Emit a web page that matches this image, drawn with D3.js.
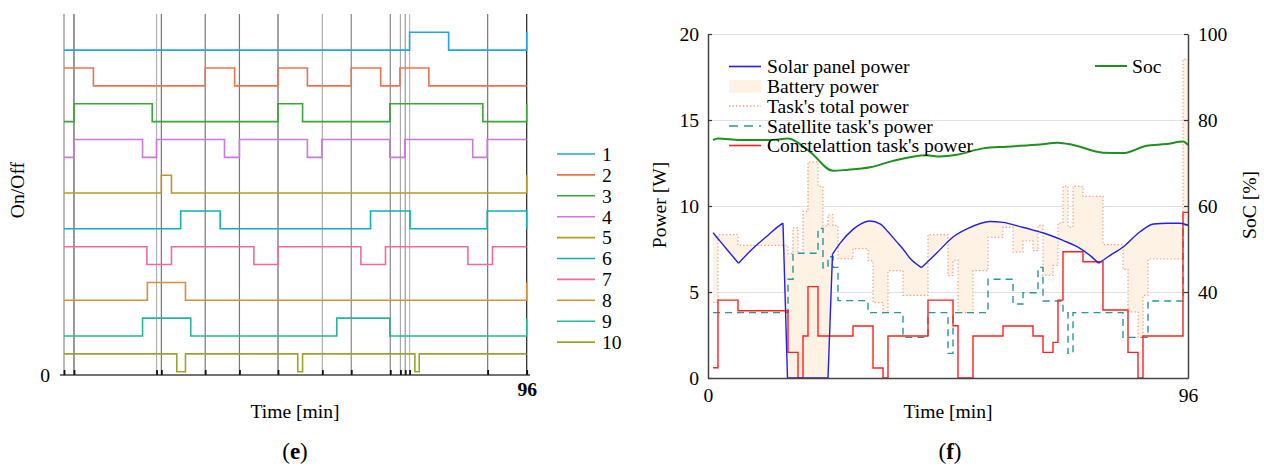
<!DOCTYPE html>
<html><head><meta charset="utf-8">
<script src="https://cdn.jsdelivr.net/npm/d3@7"></script>
<style>
body{margin:0;background:#fff}
svg{display:block;font-family:"Liberation Serif","Times New Roman",serif}
</style>
</head><body>
<svg id="c" width="1264" height="468"></svg>
<script>
// ---------------- DATA: panel (e) on/off schedule ----------------
const taskLabels = ["1","2","3","4","5","6","7","8","9","10"];
const task1  = [[0,0],[71.7,1],[79.8,0],[96,1]];
const task2  = [[0,1],[6.1,0],[29.3,1],[35.4,0],[44.4,1],[50.5,0],[59.6,1],[65.7,0],[69.7,1],[75.7,0],[96,0]];
const task3  = [[0,0],[2.07,1],[18.3,0],[44.4,1],[49.5,0],[67.6,1],[86.9,0],[96,1]];
const task4  = [[0,0],[2.07,1],[16.3,0],[19.2,1],[33.3,0],[36.4,1],[50.5,0],[53.5,1],[67.6,0],[70.7,1],[84.8,0],[87.8,1],[96,1]];
const task5  = [[0,0],[20.2,1],[22.3,0],[96,1]];
const task6  = [[0,0],[24.2,1],[32.4,0],[63.6,1],[71.8,0],[87.8,1],[96,0]];
const task7  = [[0,1],[17.2,0],[22.3,1],[39.4,0],[44.4,1],[61.6,0],[66.7,1],[83.8,0],[88.9,1],[96,1]];
const task8  = [[0,0],[17.3,1],[25.2,0],[96,1]];
const task9  = [[0,0],[16.3,1],[26.3,0],[56.6,1],[67.6,0],[96,1]];
const task10 = [[0,1],[23.4,0],[25.2,1],[48.5,0],[49.5,1],[72.8,0],[73.7,1],[96,1]];
const eventTimes = [0,2.07,19.2,20.2,29.3,36.4,44.4,53.6,59.6,67.7,69.8,70.8,71.7,87.9,96];
const eventShade = ["#8a8a8a","#555","#b0b0b0","#777","#777","#777","#666","#aaa","#888","#888","#aaa","#999","#bbb","#777","#222"];
const xTicksE = [96];

// ---------------- DATA: panel (f) power ----------------
const solarTime  = [1,2,4,6.1,8,10,12,14,15,15.9,24,24.9,26.4,29,30.5,32.4,34.5,36,37.7,39,40.4,42.7,45.7,49,52,56.4,59,62.4,65,68.4,71,74.4,76.5,78.1,80,83.1,86.4,89.1,92,94.4,96];
const solarPower = [8.45,8.1,7.4,6.67,7.25,7.8,8.3,8.8,9.0,0,0,7.2,7.83,8.64,8.95,9.13,8.95,8.5,7.93,7.5,6.96,6.42,7.25,8.2,8.7,9.1,9.05,8.8,8.6,8.3,8.0,7.54,7.1,6.67,7.05,7.63,8.5,8.95,9.0,9.0,8.88];
const solarCusps = [6.1,15,15.9,24,24.9,42.7,78.1];
const satTime  = [1,16,17,22,23,24,25,26,32,39,44,48,49,56,61,63,66,67,71,72,73,83,88,95,96];
const satPower = [3.8,5.74,7.25,8.7,6.4,7.05,6.43,4.5,3.8,2.36,3.8,1.43,3.8,5.74,4.3,4.96,6.43,4.48,3.8,1.43,3.8,2.36,4.48,8.9,8.9];
const conTime  = [1,2,6,16,18,19,20,22,29,33,35,36,44,49,50,53,59,65,67,69,70,71,75,79,84,86,87,95,96];
const conPower = [0.6,4.53,3.91,1.49,0,2.44,5.31,2.44,3.02,0.58,0,2.44,4.53,3.04,0,2.44,3.02,2.44,1.49,2.07,4.53,7.34,6.76,3.95,1.49,0,2.44,9.63,9.63];
const socTime  = [1,2,6.4,13,16,20.4,25,27.7,32.4,37,43.7,46.4,49.7,55,59.7,66.4,70,73,79,83,87.7,91.7,95,96];
const socValue = [75.35,75.7,75.35,75.35,75.7,72.6,68.2,68.4,69,70.5,71.8,71.5,71.9,73.4,73.8,74.3,74.7,74.2,72.4,72.3,74,74.4,75,74.2];
const powerTicks = [0,5,10,15,20];
const socTicks = [40,60,80,100];
const timeTicksF = [0,96];
const legendF = ["Solar panel power","Battery power","Task's total power","Satellite task's power","Constelattion task's power"];

// ---------------- STYLES ----------------
const taskColors = ["#1ea5ea","#ef7150","#38a838","#cc78dc","#b89a22","#10b0b8","#f4699a","#d8903a","#22b89a","#9aa42a"];
const FONT = 19.6;
const SERIF = '"Liberation Serif","Times New Roman",serif';
const svg = d3.select("#c");

// ================= PANEL (e) =================
const xL = d3.scaleLinear().domain([0,96]).range([64,526.7]);
const yL = d3.scaleLinear().domain([0,20.2]).range([375,14]);
const gE = svg.append("g");

gE.selectAll("line.ev").data(eventTimes).join("line")
  .attr("x1",d=>xL(d)).attr("x2",d=>xL(d)).attr("y1",yL(20.2)).attr("y2",yL(0))
  .attr("stroke",(d,i)=>eventShade[i]).attr("stroke-width",1.2);

const axE = d3.axisBottom(xL).tickValues(eventTimes).tickSizeInner(-5).tickSizeOuter(0)
  .tickFormat(d=>xTicksE.includes(d)?d:"");
const gax = gE.append("g").attr("transform",`translate(0,${yL(0)})`).call(axE);
gax.attr("font-family",SERIF).attr("font-size",FONT);
gax.select(".domain").attr("d",`M60,0H530`).attr("stroke","#444").attr("stroke-width",1.5);
gax.selectAll(".tick line").attr("stroke","#111").attr("stroke-width",1.8);
gax.selectAll(".tick text").attr("font-weight","bold").attr("fill","#000").attr("dy","0.9em");

const ayE = d3.axisLeft(yL).tickValues([0]).tickSize(0).tickPadding(10);
const gay = gE.append("g").attr("transform","translate(60,0)").call(ayE);
gay.attr("font-family",SERIF).attr("font-size",FONT);
gay.select(".domain").remove();
gay.selectAll("text").attr("fill","#000");

const tasks = [task1,task2,task3,task4,task5,task6,task7,task8,task9,task10];
tasks.forEach((arr,i)=>{
  const base = 2*(9-i)+0.18;
  const line = d3.line().curve(d3.curveStepAfter).x(d=>xL(d[0])).y(d=>yL(base+d[1]));
  gE.append("path").datum(arr).attr("d",line).attr("fill","none")
    .attr("stroke",taskColors[i]).attr("stroke-width",1.6);
});

const legE = gE.append("g");
taskLabels.forEach((lab,i)=>{
  const y = 154 + i*20.9;
  legE.append("line").attr("x1",557).attr("x2",595).attr("y1",y).attr("y2",y)
    .attr("stroke",taskColors[i]).attr("stroke-width",1.6);
  legE.append("text").attr("x",602).attr("y",y).attr("dy","0.35em").attr("font-size",FONT).text(lab);
});

gE.append("text").attr("transform","translate(24,190) rotate(-90)").attr("text-anchor","middle")
  .attr("font-size",FONT).text("On/Off");
gE.append("text").attr("x",295).attr("y",418).attr("text-anchor","middle").attr("font-size",FONT).text("Time [min]");
const capE = gE.append("text").attr("x",295).attr("y",459).attr("text-anchor","middle").attr("font-size",23);
capE.append("tspan").text("(");
capE.append("tspan").attr("font-weight","bold").text("e");
capE.append("tspan").text(")");

// ================= PANEL (f) =================
const xR = d3.scaleLinear().domain([0,96]).range([708,1188]);
const yP = d3.scaleLinear().domain([0,20]).range([378,34]);
const yS = d3.scaleLinear().domain([20,100]).range([378,34]);
const gF = svg.append("g");

const grid = d3.axisLeft(yP).tickValues(powerTicks.slice(1)).tickSize(-480).tickFormat("");
const gg = gF.append("g").attr("transform","translate(708,0)").call(grid);
gg.select(".domain").remove();
gg.selectAll("line").attr("stroke","#e2e2e2").attr("stroke-width",1);

function stepAt(T,V,t){ let v=0; for(let i=0;i<T.length;i++){ if(T[i]<=t) v=V[i]; else break;} return v; }
const totalTimes = Array.from(new Set([...satTime,...conTime])).sort((a,b)=>a-b);
const totalAt = t=>stepAt(satTime,satPower,t)+stepAt(conTime,conPower,t);
const totalSeries = totalTimes.map(t=>[t, totalAt(t)]);

// solar drawn as smooth arcs between cusps
const solarPts = solarTime.map((t,i)=>[t,solarPower[i]]);
const arcs = [];
let cur = [];
solarPts.forEach(p=>{
  cur.push(p);
  if(solarCusps.includes(p[0])){ arcs.push(cur); cur=[p]; }
});
if(cur.length>1) arcs.push(cur);
const solarLine = d3.line().curve(d3.curveMonotoneX).x(d=>xR(d[0])).y(d=>yP(d[1]));

// battery area between drawn solar curve and total power
const solarSamples = [];
arcs.forEach(a=>{
  const t0=a[0][0], t1=a[a.length-1][0];
  const n = Math.max(8, Math.round((t1-t0)*16));
  const p = svg.append("path").attr("d",solarLine(a)).attr("visibility","hidden");
  const node = p.node(); const L = node.getTotalLength();
  for(let k=0;k<=n;k++){ const pt=node.getPointAtLength(L*k/n); solarSamples.push([xR.invert(pt.x), yP.invert(pt.y)]); }
  p.remove();
});
solarSamples.sort((a,b)=>a[0]-b[0]);
function solarDrawnAt(t){
  const i = d3.bisector(d=>d[0]).right(solarSamples,t);
  if(i<=0) return solarSamples[0][1];
  if(i>=solarSamples.length) return solarSamples[solarSamples.length-1][1];
  const a=solarSamples[i-1], b=solarSamples[i];
  if(b[0]===a[0]) return b[1];
  return a[1]+(b[1]-a[1])*(t-a[0])/(b[0]-a[0]);
}
const allT = Array.from(new Set([...solarSamples.map(d=>d[0]),...totalTimes])).sort((a,b)=>a-b);
const areaPts = [];
allT.forEach(t=>{
  const s = solarDrawnAt(t);
  if(totalTimes.includes(t) && t>allT[0]) areaPts.push({t, s, p: totalAt(t-1e-6)});
  areaPts.push({t, s, p: totalAt(t)});
});
gF.append("path").datum(areaPts)
  .attr("d",d3.area().x(d=>xR(d.t)).y0(d=>yP(d.s)).y1(d=>yP(d.p)))
  .attr("fill","#fdf2e4").attr("stroke","none");

gF.append("path").datum(totalSeries)
  .attr("d",d3.line().curve(d3.curveStepAfter).x(d=>xR(d[0])).y(d=>yP(d[1])))
  .attr("fill","none").attr("stroke","#f59a80").attr("stroke-width",1.2).attr("stroke-dasharray","1.3,2.2");

gF.append("path").datum(satTime.map((t,i)=>[t,satPower[i]]))
  .attr("d",d3.line().curve(d3.curveStepAfter).x(d=>xR(d[0])).y(d=>yP(d[1])))
  .attr("fill","none").attr("stroke","#2b9696").attr("stroke-width",1.4).attr("stroke-dasharray","7,5");

gF.append("path").datum(conTime.map((t,i)=>[t,conPower[i]]))
  .attr("d",d3.line().curve(d3.curveStepAfter).x(d=>xR(d[0])).y(d=>yP(d[1])))
  .attr("fill","none").attr("stroke","#ff2020").attr("stroke-width",1.4);

arcs.forEach(a=>{
  gF.append("path").datum(a).attr("d",solarLine)
    .attr("fill","none").attr("stroke","#2020f0").attr("stroke-width",1.4);
});

gF.append("path").datum(socTime.map((t,i)=>[t,socValue[i]]))
  .attr("d",d3.line().curve(d3.curveMonotoneX).x(d=>xR(d[0])).y(d=>yS(d[1])))
  .attr("fill","none").attr("stroke","#1e901e").attr("stroke-width",2);

function styleAxis(g){
  g.attr("font-family",SERIF).attr("font-size",FONT);
  g.select(".domain").attr("stroke","#444").attr("stroke-width",1.5);
  g.selectAll(".tick line").attr("stroke","#333").attr("stroke-width",1.2);
  g.selectAll(".tick text").attr("fill","#000");
}
const gL = gF.append("g").attr("transform","translate(708,0)")
  .call(d3.axisLeft(yP).tickValues(powerTicks).tickSizeInner(-4).tickSizeOuter(0).tickPadding(9));
styleAxis(gL);
const gR = gF.append("g").attr("transform","translate(1188,0)")
  .call(d3.axisRight(yS).tickValues(socTicks).tickSizeInner(-4).tickSizeOuter(0).tickPadding(10));
styleAxis(gR);
const gB = gF.append("g").attr("transform","translate(0,378)")
  .call(d3.axisBottom(xR).tickValues(timeTicksF).tickSizeInner(0).tickSizeOuter(0).tickPadding(9));
styleAxis(gB);
gB.selectAll(".tick text").attr("dy","0.75em");

const legF = gF.append("g");
const legY = [66.5, 86.5, 106, 126, 145.5];
const legStyle = [{c:"#2020f0",d:null},null,{c:"#f59a80",d:"1.3,2.2"},{c:"#2b9696",d:"9,6"},{c:"#ff2020",d:null}];
legendF.forEach((lab,i)=>{
  const y = legY[i];
  if(i===1){
    legF.append("rect").attr("x",729).attr("y",y-6.5).attr("width",32).attr("height",13).attr("fill","#fdf2e4");
  } else {
    legF.append("line").attr("x1",729).attr("x2",761).attr("y1",y).attr("y2",y)
      .attr("stroke",legStyle[i].c).attr("stroke-width",1.6).attr("stroke-dasharray",legStyle[i].d);
  }
  legF.append("text").attr("x",767).attr("y",y).attr("dy","0.35em").attr("font-size",FONT).text(lab);
});
legF.append("line").attr("x1",1095).attr("x2",1127).attr("y1",66).attr("y2",66).attr("stroke","#1e901e").attr("stroke-width",2);
legF.append("text").attr("x",1132).attr("y",66).attr("dy","0.35em").attr("font-size",FONT).text("Soc");

gF.append("text").attr("transform","translate(666,205) rotate(-90)").attr("text-anchor","middle").attr("font-size",FONT).text("Power [W]");
gF.append("text").attr("transform","translate(1256,205) rotate(-90)").attr("text-anchor","middle").attr("font-size",FONT).text("SoC [%]");
gF.append("text").attr("x",948).attr("y",418).attr("text-anchor","middle").attr("font-size",FONT).text("Time [min]");
const capF = gF.append("text").attr("x",950).attr("y",459).attr("text-anchor","middle").attr("font-size",23);
capF.append("tspan").text("(");
capF.append("tspan").attr("font-weight","bold").text("f");
capF.append("tspan").text(")");
</script>
</body></html>
